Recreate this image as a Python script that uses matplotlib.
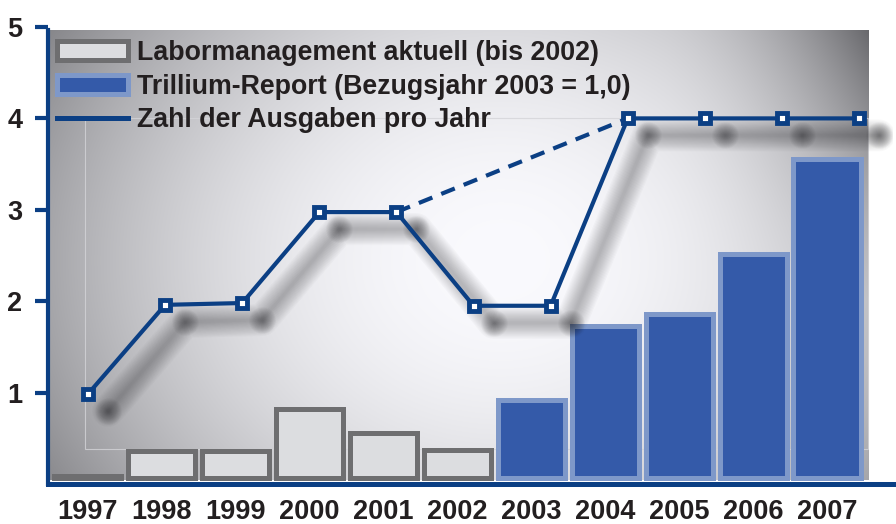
import numpy as np
import matplotlib
matplotlib.use('Agg')
import matplotlib.pyplot as plt
import matplotlib.transforms as mtransforms
from matplotlib.patches import Patch, Rectangle
from matplotlib.lines import Line2D

plt.rcParams['font.family'] = ['Liberation Sans', 'DejaVu Sans']
plt.rcParams['font.weight'] = 'bold'

# data
years = ['1997', '1998', '1999', '2000', '2001', '2002',
         '2003', '2004', '2005', '2006', '2007']
bar_values = [0.088, 0.356, 0.356, 0.826, 0.563, 0.377,
              0.924, 1.734, 1.855, 2.511, 3.561]
issues = [0.985, 1.96, 1.98, 2.975, 2.975, 1.95, 1.95, 4.0, 4.0, 4.0, 4.0]
n_old = 6  # 1997-2002 = Labormanagement aktuell
labels = ['Labormanagement aktuell (bis 2002)',
          'Trillium-Report (Bezugsjahr 2003 = 1,0)',
          'Zahl der Ausgaben pro Jahr']
yticks = [1, 2, 3, 4, 5]

navy = '#0b3f84'
txt = '#231f20'
gray_fill, gray_edge = '#dcdde0', '#6e6e70'
blue_fill, blue_edge = '#345aa9', '#7e98c9'
base = 0.066

fig = plt.figure(figsize=(8.96, 5.24), dpi=100)
ax = fig.add_axes([48 / 896, 40 / 524, 845 / 896, 457 / 524])
ax.set_xlim(-0.541, 10.893)
ax.set_ylim(0, 5)

# radial grey background
H, W = 450, 818
yy, xx = np.mgrid[0:H, 0:W]
px = xx + 50.0
py = yy + 30.0
r2 = ((px - 500) / 480) ** 2 + ((py - 260) / 400) ** 2
val = 250 - 95 * r2
val -= 60 * np.clip((px - 650) / 220, 0, 1) ** 2 * np.clip((300 - py) / 270, 0, 1)
val = np.clip(val, 0, 255) / 255.0
img = np.dstack([val, val, np.clip(val + 0.015, 0, 1)])
ax.imshow(img, extent=(-0.514, 10.555, 0.044, 4.967), aspect='auto',
          zorder=0, interpolation='bilinear')
ax.add_patch(Rectangle((-0.04, 0.383), 10.595, 4.0 - 0.383, fill=False,
                       edgecolor='#d4d4d8', lw=0.8, alpha=0.8, zorder=1))

x = np.arange(len(years))
vals = np.array(bar_values)
ax.bar(x[:n_old], vals[:n_old] - base, bottom=base, width=0.907,
       color=gray_fill, edgecolor=gray_edge, linewidth=3.6, zorder=3)
ax.bar(x[n_old:], vals[n_old:] - base, bottom=base, width=0.907,
       color=blue_fill, edgecolor=blue_edge, linewidth=3.6, zorder=3)

ax.set_xticks(x)
ax.set_xticklabels(years, fontsize=19.5, color=txt, fontweight='bold')
ax.tick_params(axis='x', length=0, pad=11)
ax.set_yticks(yticks)
ax.set_yticklabels([str(t) for t in yticks], fontsize=19.5, color=txt,
                   fontweight='bold')
ax.tick_params(axis='y', length=9.5, width=3, color=navy, pad=9)
for s in ['top', 'right']:
    ax.spines[s].set_visible(False)
ax.spines['left'].set_color(navy)
ax.spines['left'].set_linewidth(3)
ax.spines['left'].set_bounds(0, 4.967)
ax.spines['bottom'].set_color(navy)
ax.spines['bottom'].set_linewidth(3.6)
ax.spines['bottom'].set_zorder(5)

# line axis (markers are spaced a bit wider than the bars)
ax2 = ax.twiny()
ax2.set_xlim(-0.519, 10.44)
ax2.set_ylim(0, 5)
ax2.axis('off')
xl = np.arange(len(issues))
yl = np.array(issues)

# soft drop shadow
shadow = mtransforms.offset_copy(ax2.transData, fig=fig, x=20, y=-17, units='dots')
for w in np.linspace(3, 32, 14):
    ax2.plot(xl, yl, color='#202024', lw=w * 0.72, alpha=0.022, transform=shadow,
             solid_capstyle='round', solid_joinstyle='round', zorder=2)
    ax2.plot(xl, yl, ls='none', marker='o', ms=w * 0.6, mew=0,
             color='#202024', alpha=0.035, transform=shadow, zorder=2)

ax2.plot(xl, yl, color=navy, lw=3, zorder=4, solid_joinstyle='miter')
ax2.plot(xl[[4, 7]], yl[[4, 7]], color=navy, lw=3, ls=(0, (3.5, 2.3)), zorder=4)
ax2.plot(xl, yl, ls='none', marker='s', ms=6.5, mew=3.5, mfc='white',
         mec=navy, zorder=5)

handles = [Patch(facecolor=gray_fill, edgecolor=gray_edge, linewidth=3.6),
           Patch(facecolor=blue_fill, edgecolor=blue_edge, linewidth=3.6),
           Line2D([], [], color=navy, lw=3.6)]
leg = ax2.legend(handles, labels, loc='upper left',
                 bbox_to_anchor=(0.0112, 0.971), frameon=False, borderpad=0,
                 handlelength=2.65, handleheight=0.72, handletextpad=0.32,
                 labelspacing=0.28, borderaxespad=0,
                 prop={'size': 19.3, 'weight': 'bold'})
for t in leg.get_texts():
    t.set_color(txt)

fig.savefig('out.png', dpi=100)
